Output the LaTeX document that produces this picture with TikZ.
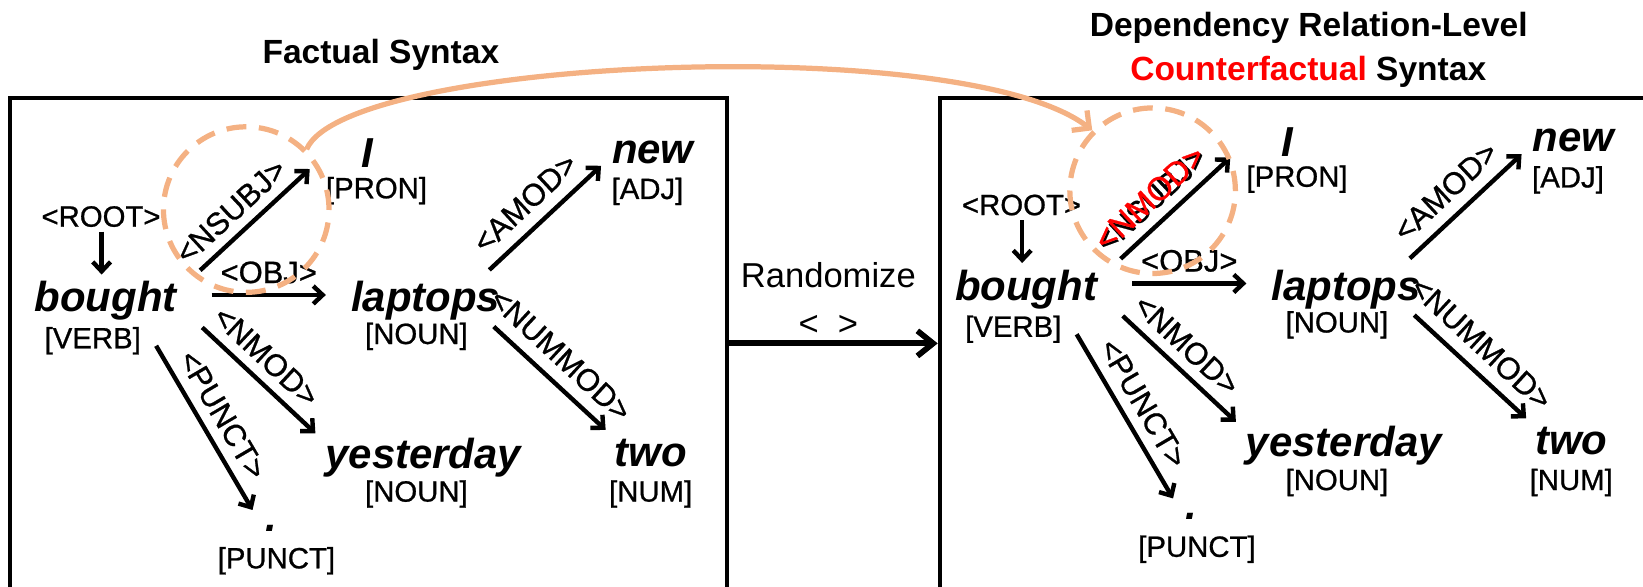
\documentclass[tikz,border=0pt]{standalone}
\usepackage{fontspec}
\setmainfont{Liberation Sans}
\newfontfamily\medfont{Liberation Sans}[FakeBold=0.8]
\usetikzlibrary{arrows.meta}
\definecolor{peach}{RGB}{244,177,131}
\definecolor{cfred}{RGB}{255,0,0}

\tikzset{
  word/.style={font=\fontsize{40}{44}\selectfont\bfseries\itshape, anchor=base, inner sep=0pt},
  tag/.style={font=\fontsize{28}{32}\selectfont\medfont, anchor=base, inner sep=0pt},
  lab/.style={font=\fontsize{29.5}{33}\selectfont\medfont, sloped, anchor=south, inner xsep=0pt, inner ysep=9pt},
  lab2/.style={lab, inner ysep=11pt},
  redlab/.style={lab, font=\fontsize{31}{34}\selectfont\medfont, text=cfred, inner ysep=11pt},
  dep/.style={line width=4.2pt, -{Straight Barb[length=9pt,width=17pt]}},
  box/.style={draw, line width=3.8pt, inner sep=0pt},
  bigarr/.style={line width=5.5pt, -{Straight Barb[length=15pt,width=24pt]}},
  title/.style={font=\fontsize{32}{36}\selectfont\bfseries, anchor=base, inner sep=0pt},
  midtext/.style={font=\fontsize{33}{36}\selectfont, anchor=base, inner sep=0pt},
  ring/.style={circle, draw=peach, line width=5pt, dash pattern=on 19pt off 12pt,
               minimum size=158pt, inner sep=0pt},
  swap/.style={draw=peach, line width=5pt, -{Straight Barb[length=12pt,width=24pt]}}
}

% One parsed sentence: words, POS tags and labelled dependency arcs.
% #1 is placed on the nsubj arc after its own label.
\newcommand{\depTree}[1]{%
  \node[tag]  (root)      at (96.4,216.3) {<ROOT>};
  \node[word] (bought)    at (100.8,297.5) {bought};
  \node[tag]  (verb)      at (88.5,332.4) {[VERB]};
  \node[word] (I)         at (350.5,160.3) {I};
  \node[tag]  (pron)      at (359.3,189.2) {[PRON]};
  \node[word] (laptops)   at (406.2,297.5) {laptops};
  \node[tag]  (noun1)     at (397.4,328.3) {[NOUN]};
  \node[word] (new)       at (623,155.9) {new};
  \node[tag]  (adj)       at (617.9,189.9) {[ADJ]};
  \node[word] (yesterday) at (404,447) {yesterday};
  \node[tag]  (noun2)     at (397.4,478.7) {[NOUN]};
  \node[word] (two)       at (621,444.8) {two};
  \node[tag]  (num)       at (621,478.7) {[NUM]};
  \node[word] (dot)       at (258.5,507) {.};
  \node[tag]  (punct)     at (263.8,542.4) {[PUNCT]};
  \draw[dep] ([shift={(0.6,4.7)}]root.base) -- ([shift={(-3.8,-35.5)}]bought.base);
  \draw[dep] ([shift={(90.2,-39.5)}]bought.base) --
     node[lab, pos=.42] {<NSUBJ>} #1 ([shift={(-54.9,1)}]I.base);
  \draw[dep] ([shift={(101.2,-16)}]bought.base) --
     node[lab, pos=.5] {<OBJ>} ([shift={(-95.2,-16)}]laptops.base);
  \draw[dep] ([shift={(92.2,15)}]bought.base) --
     node[lab, pos=.43] {<NMOD>} ([shift={(-103,-33.5)}]yesterday.base);
  \draw[dep] ([shift={(48.2,32.5)}]bought.base) --
     node[lab, pos=.49] {<PUNCT>} ([shift={(-17.5,-20.3)}]dot.base);
  \draw[dep] ([shift={(60.8,-39.9)}]laptops.base) --
     node[lab2, pos=.47] {<AMOD>} ([shift={(-49.4,2.3)}]new.base);
  \draw[dep] ([shift={(65,14.2)}]laptops.base) --
     node[lab2, pos=.45] {<NUMMOD>} ([shift={(-43,-34.5)}]two.base);
}

\begin{document}
\begin{tikzpicture}[x=1pt, y=-1pt]
  \useasboundingbox (0,0) rectangle (1568,560);
  \clip (0,0) rectangle (1568,560);

  % panels
  \node[box, minimum width=683.8pt, minimum height=526pt] (lbox) at (351.6,356.8) {};
  \node[box, minimum width=753pt, minimum height=526pt] (rbox) at (1273.3,356.8) {};

  % titles
  \node[title] (tfact) at (363.5,60.4) {Factual Syntax};
  \node[title] (tdep)  at (1249,35) {Dependency Relation-Level};
  \node[title] (tcf)   at (1248.5,76.4) {\textcolor{cfred}{Counterfactual} Syntax};

  % factual tree
  \begin{scope}[name prefix=f-]
    \depTree{}
  \end{scope}

  % counterfactual tree
  \begin{scope}[name prefix=c-, shift={(878.5,-11)}]
    \depTree{node[redlab, pos=.42] {<NMOD>}}
  \end{scope}

  % randomization step
  \node[midtext] (rand) at (790.5,274.5) {Randomize};
  \node[midtext] (brk)  at (790.5,320) {<\ \ >};
  \draw[bigarr] (lbox.east |- 0,327.7) -- (rbox.west |- 0,327.7);

  % highlighted relation and its swap
  \node[ring] (lc) at (235,200) {};
  \node[ring] (rc) at (1100,182) {};
  \draw[swap] (lc.45) .. controls (330,55) and (920,30) .. (rc.135);
\end{tikzpicture}
\end{document}
